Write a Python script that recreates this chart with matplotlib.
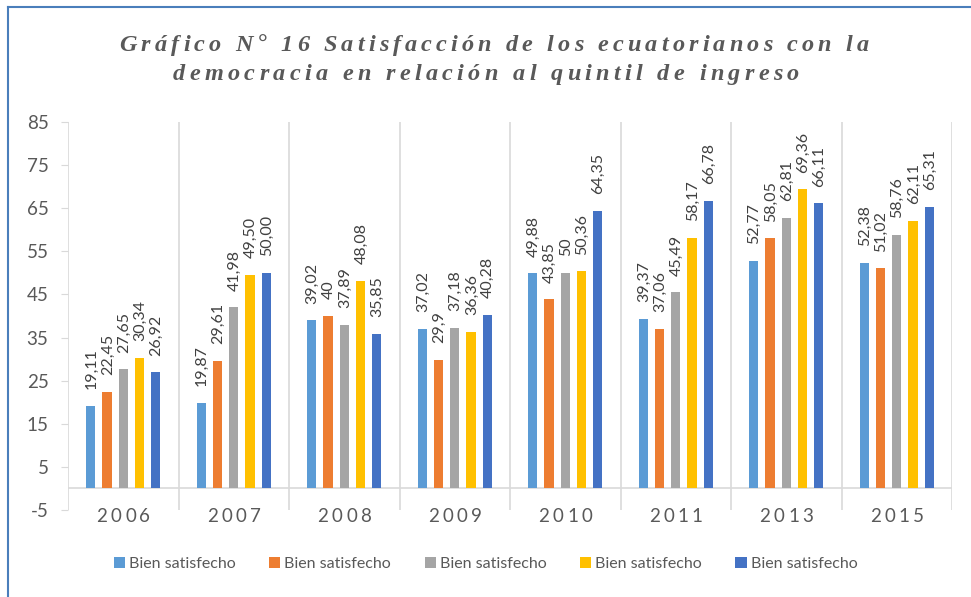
import numpy as np
import matplotlib
matplotlib.use("Agg")
import matplotlib.pyplot as plt
from matplotlib.lines import Line2D

# Data (values as printed on the chart, comma decimals)
years = ["2006", "2007", "2008", "2009", "2010", "2011", "2013", "2015"]
series_names = ["Bien satisfecho"] * 5
q1 = ["19,11", "19,87", "39,02", "37,02", "49,88", "39,37", "52,77", "52,38"]
q2 = ["22,45", "29,61", "40", "29,9", "43,85", "37,06", "58,05", "51,02"]
q3 = ["27,65", "41,98", "37,89", "37,18", "50", "45,49", "62,81", "58,76"]
q4 = ["30,34", "49,50", "48,08", "36,36", "50,36", "58,17", "69,36", "62,11"]
q5 = ["26,92", "50,00", "35,85", "40,28", "64,35", "66,78", "66,11", "65,31"]
yticks = list(range(-5, 86, 10))
title_lines = ["Gráfico N° 16 Satisfacción de los ecuatorianos con la",
               "democracia en relación al quintil de ingreso"]

colors = ["#5B9BD5", "#ED7D31", "#A5A5A5", "#FFC000", "#4472C4"]
grid_c = "#D9D9D9"
text_c = "#595959"

plt.rcParams["font.family"] = ["Lato", "DejaVu Sans"]
plt.rcParams["axes.unicode_minus"] = False

W, H = 971, 597
fig = plt.figure(figsize=(W / 100, H / 100), dpi=100)
ax = fig.add_axes([68 / W, 1 - 510 / H, (952 - 68) / W, (510 - 122) / H])

x = np.arange(len(years))
pitch, width = 0.147, 0.083
for j, (s, c, name) in enumerate(zip([q1, q2, q3, q4, q5], colors, series_names)):
    vals = [float(v.replace(",", ".")) for v in s]
    xs = x + (j - 2) * pitch
    ax.bar(xs, vals, width=width, color=c, label=name, zorder=3)
    for xi, v, lbl in zip(xs, vals, s):
        ax.annotate(lbl, (xi, v), xytext=(0.5, 12), textcoords="offset points",
                    rotation=90, ha="center", va="bottom", fontsize=11.5,
                    color="#404040", annotation_clip=False)

ax.set_xlim(-0.5, len(years) - 0.5)
ax.set_ylim(-5, 85)
ax.vlines(np.arange(len(years) + 1) - 0.5, -5, 85, color=grid_c, lw=1.2, zorder=1)
ax.axhline(0, color=grid_c, lw=1.2, zorder=2)
for sp in ax.spines.values():
    sp.set_visible(False)
ax.set_yticks(yticks)
ax.set_xticks([])
ax.tick_params(axis="y", length=5, color=grid_c, labelsize=13.5, labelcolor=text_c, pad=9)


def spaced_text(s, cx, base_y, spacing, **kw):
    """Draw s centred at cx (pixels) with extra letter spacing, baseline at base_y (pixels)."""
    r = fig.canvas.get_renderer()
    probe = fig.text(0, 0, "|", **kw)
    wbar = probe.get_window_extent(r).width
    probe.remove()
    pos = [0.0]
    for i in range(1, len(s)):
        t = fig.text(0, 0, s[:i] + "|", **kw)
        pos.append(t.get_window_extent(r).width - wbar)
        t.remove()
    t = fig.text(0, 0, s[-1], **kw)
    wlast = t.get_window_extent(r).width
    t.remove()
    total = pos[-1] + wlast + spacing * (len(s) - 1)
    x0 = cx - total / 2
    for i, ch in enumerate(s):
        if ch == " ":
            continue
        fig.text((x0 + pos[i] + i * spacing) / W, base_y / H, ch,
                 ha="left", va="baseline", **kw)


title_kw = dict(fontsize=17.5, fontweight="bold", fontstyle="italic",
                family="Liberation Serif", color=text_c)
spaced_text(title_lines[0], 494, H - 51, 4.1, **title_kw)
spaced_text(title_lines[1], 486, H - 80, 4.3, **title_kw)

# category labels, letter spaced
for i, yr in enumerate(years):
    cx = ax.transData.transform((i, 0))[0]
    spaced_text(yr, cx, H - 522, 3.5, fontsize=13.5, color=text_c)

fig.legend(loc="center", bbox_to_anchor=(0.5, 1 - 564 / H), ncol=5, frameon=False,
           fontsize=11.5, handlelength=0.7, handleheight=0.7, handletextpad=0.25,
           columnspacing=2.1, labelcolor=text_c)

# outer frame (cropped on right and bottom)
fig.add_artist(Line2D([8 / W, 8 / W], [0, 1 - 7 / H], color="#4A7EBB", lw=1.5,
                      transform=fig.transFigure))
fig.add_artist(Line2D([8 / W, 1], [1 - 7 / H, 1 - 7 / H], color="#4A7EBB", lw=1.5,
                      transform=fig.transFigure))

fig.savefig("out.png", dpi=100)
